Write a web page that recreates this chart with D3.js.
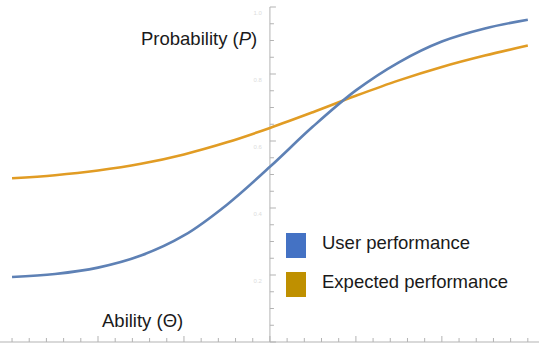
<!DOCTYPE html>
<html>
<head>
<meta charset="utf-8">
<script src="https://cdn.jsdelivr.net/npm/d3@7"></script>
<style>
  body { margin: 0; background: #fff; }
  text { font-family: "Liberation Sans", Arial, sans-serif; }
</style>
</head>
<body>
<script>
const theta = [-3, -2.5, -2, -1.5, -1, -0.5, 0, 0.5, 1, 1.5, 2, 2.5, 3];
// user performance (blue)
const userP = [0.194, 0.203, 0.222, 0.258, 0.318, 0.410, 0.523, 0.643, 0.751, 0.835, 0.897, 0.936, 0.962];
// expected performance (orange)
const expectedP = [0.489, 0.498, 0.512, 0.532, 0.560, 0.596, 0.639, 0.686, 0.735, 0.781, 0.821, 0.855, 0.885];
const yTickLabels = ["0.2", "0.4", "0.6", "0.8", "1.0"];
const legendNames = ["User performance", "Expected performance"];

var width = 543, height = 356;
let svg = d3.select("body").append("svg")
            .attr("width", width)
            .attr("height", height);

// axes cross at theta = 0, P = 0
let x = d3.scaleLinear().domain([-3.14, 3.13]).range([0, 539]);
let y = d3.scaleLinear().domain([0, 1]).range([342, 7]);

const axisColor = "#b3b3b3";

// x axis: line plus inward ticks every 0.2, longer at integers
svg.append("line")
   .attr("x1", x(-3.14)).attr("x2", x(3.13))
   .attr("y1", y(0)).attr("y2", y(0))
   .attr("stroke", axisColor).attr("stroke-width", 1);
let xt = d3.range(-15, 16).map(d => d / 5);
svg.selectAll(".xtick")
   .data(xt)
   .join("line")
   .attr("class", "xtick")
   .attr("x1", d => x(d)).attr("x2", d => x(d))
   .attr("y1", y(0))
   .attr("y2", d => y(0) - (Math.abs(d - Math.round(d)) < 1e-6 && Math.abs(d) < 3 ? 6 : 4))
   .attr("stroke", axisColor).attr("stroke-width", 1);

// y axis
svg.append("line")
   .attr("x1", x(0)).attr("x2", x(0))
   .attr("y1", y(0)).attr("y2", y(1))
   .attr("stroke", axisColor).attr("stroke-width", 1);
let yt = d3.range(0, 21).map(d => d / 20);
svg.selectAll(".ytick")
   .data(yt)
   .join("line")
   .attr("class", "ytick")
   .attr("x1", x(0))
   .attr("x2", (d, i) => x(0) + (i % 4 === 0 ? 6 : 4))
   .attr("y1", d => y(d)).attr("y2", d => y(d))
   .attr("stroke", axisColor).attr("stroke-width", 1);

// faint y tick labels
svg.selectAll(".ylab")
   .data(yTickLabels)
   .join("text")
   .attr("class", "ylab")
   .attr("x", x(0) - 8)
   .attr("y", d => y(+d) + 8)
   .attr("text-anchor", "end")
   .attr("font-size", 6)
   .attr("fill", "#dcdcdc")
   .text(d => d);

// curves
let line = d3.line()
             .x((d, i) => x(theta[i]))
             .y(d => y(d))
             .curve(d3.curveCatmullRom.alpha(0.5));

svg.append("path")
   .attr("d", line(expectedP))
   .attr("fill", "none")
   .attr("stroke", "#e19c24")
   .attr("stroke-width", 2.6);

svg.append("path")
   .attr("d", line(userP))
   .attr("fill", "none")
   .attr("stroke", "#5e81b5")
   .attr("stroke-width", 2.6);

// axis titles
let pt = svg.append("text")
   .attr("x", 141).attr("y", 45)
   .attr("font-size", 18.5).attr("fill", "#1a1a1a");
pt.append("tspan").text("Probability (");
pt.append("tspan").attr("font-style", "italic").text("P");
pt.append("tspan").text(")");

svg.append("text")
   .attr("x", 102).attr("y", 327)
   .attr("font-size", 18.5).attr("fill", "#1a1a1a")
   .text("Ability (\u0398)");

// legend
const swatchColors = ["#4472c4", "#bf9000"];
let leg = svg.selectAll(".leg")
   .data(legendNames)
   .join("g")
   .attr("class", "leg")
   .attr("transform", (d, i) => `translate(286, ${233 + i * 39})`);
leg.append("rect")
   .attr("width", 20).attr("height", 25)
   .attr("fill", (d, i) => swatchColors[i]);
leg.append("text")
   .attr("x", 36).attr("y", 16)
   .attr("font-size", 18.5).attr("fill", "#1a1a1a")
   .text(d => d);
</script>
</body>
</html>
